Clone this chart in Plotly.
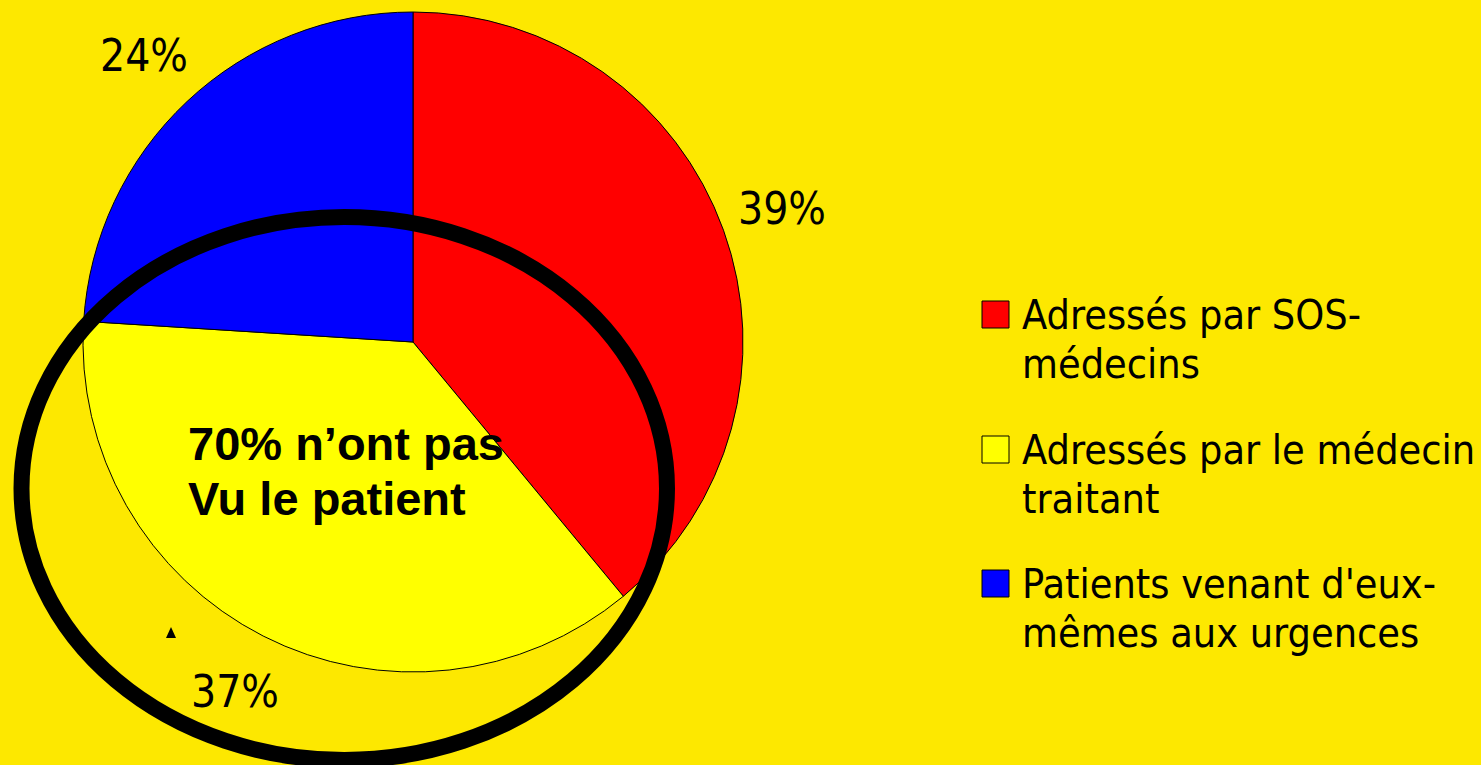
import math
import plotly.graph_objects as go

# ---- data ----
categories = ["Adressés par SOS-\nmédecins",
              "Adressés par le médecin\ntraitant",
              "Patients venant d'eux-\nmêmes aux urgences"]
values = [39, 37, 24]
colors = ["#FF0000", "#FFFF00", "#0000FF"]
callout_lines = ["70% n’ont pas", "Vu le patient"]

W, H = 1481, 765
BG = "#FDE800"
FONT = "DejaVu Sans Condensed, Tahoma, Open Sans, sans-serif"

def px(x):
    return x / W

def py(y):
    return 1 - y / H

# pie geometry (pixels)
CX, CY, R = 413, 342, 330

fig = go.Figure()
fig.add_trace(go.Pie(
    labels=[c.replace("\n", " ") for c in categories],
    values=values,
    marker=dict(colors=colors, line=dict(color="black", width=1)),
    sort=False,
    direction="clockwise",
    rotation=0,
    textinfo="none",
    domain=dict(x=[px(CX - R), px(CX + R)], y=[py(CY + R), py(CY - R)]),
    showlegend=False,
    hoverinfo="label+percent",
))

shapes = []
annotations = []

# percentage labels placed along each slice's mid-angle
total = sum(values)
cum = 0
for v in values:
    mid = (cum + v / 2) / total * 2 * math.pi
    cum += v
    r = 1.19 * R
    lx = CX + r * math.sin(mid)
    ly = CY - r * math.cos(mid)
    annotations.append(dict(text=f"{round(100 * v / total)}%", xref="paper", yref="paper",
                            x=px(lx), y=py(ly), xanchor="center", yanchor="middle",
                            showarrow=False,
                            font=dict(family=FONT, size=44, color="black")))

# ellipse highlight
shapes.append(dict(type="circle", xref="paper", yref="paper",
                   x0=px(21.5), x1=px(667), y0=py(760), y1=py(217),
                   line=dict(color="black", width=16), fillcolor="rgba(0,0,0,0)",
                   layer="above"))
# small triangle artifact
shapes.append(dict(type="path", xref="paper", yref="paper",
                   path=f"M {px(166)},{py(638)} L {px(176)},{py(638)} L {px(171)},{py(627)} Z",
                   fillcolor="black", line=dict(width=0)))

# callout text (bold), baseline-based placement
for i, line in enumerate(callout_lines):
    size = 47
    baseline = 460 + i * 55
    annotations.append(dict(text=f"<b>{line}</b>", xref="paper", yref="paper",
                            x=px(186), y=py(baseline - 0.346 * size),
                            xanchor="left", yanchor="middle", showarrow=False,
                            font=dict(family="Liberation Sans, Arial, sans-serif",
                                      size=size, color="black")))

# manual legend
leg_baselines = [329, 464, 598]
for cat, col, base in zip(categories, colors, leg_baselines):
    shapes.append(dict(type="rect", xref="paper", yref="paper",
                       x0=px(982), x1=px(1009), y0=py(base - 1), y1=py(base - 28),
                       fillcolor=col, line=dict(color="black", width=1)))
    for j, line in enumerate(cat.split("\n")):
        size = 41
        b = base + j * 49
        annotations.append(dict(text=line, xref="paper", yref="paper",
                                x=px(1020), y=py(b - 0.346 * size),
                                xanchor="left", yanchor="middle", showarrow=False,
                                font=dict(family=FONT, size=size, color="black")))

fig.update_layout(
    width=W, height=H,
    margin=dict(l=0, r=0, t=0, b=0),
    paper_bgcolor=BG, plot_bgcolor=BG,
    shapes=shapes, annotations=annotations,
    showlegend=False,
)

fig.write_html("out.html", config={"displayModeBar": False},
               post_script="document.body.style.margin='0';document.body.style.overflow='hidden';")
